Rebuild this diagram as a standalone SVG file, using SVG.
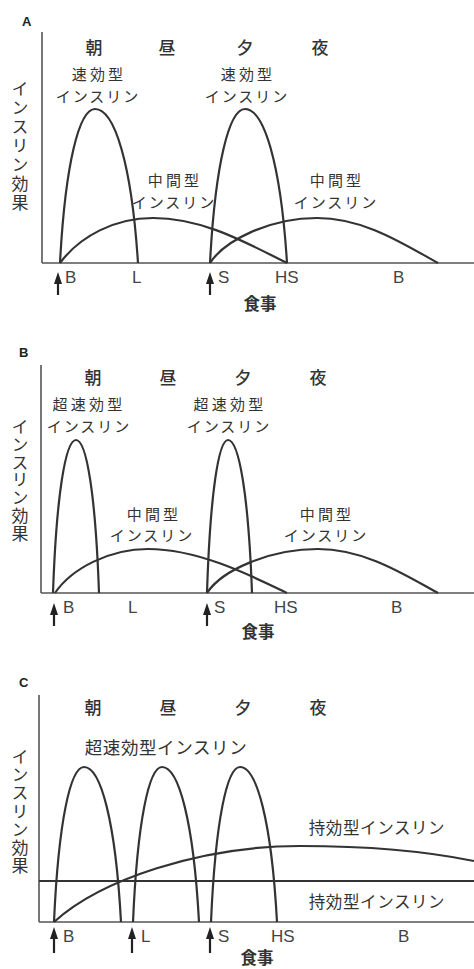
<svg xmlns="http://www.w3.org/2000/svg" width="474" height="969" viewBox="0 0 474 969">
<style>
.bg{fill:#ffffff}
.axis{stroke:#555;stroke-width:1.6;fill:none}
.curve{stroke:#333;stroke-width:2.2;fill:none}
.jp{font-family:"Noto Sans CJK JP","Noto Sans CJK SC",sans-serif;fill:#333;font-size:15px;letter-spacing:2px;text-anchor:middle}
.kj{letter-spacing:3.2px}
.one{font-family:"Noto Sans CJK JP","Noto Sans CJK SC",sans-serif;fill:#333;font-size:16.5px;letter-spacing:0.6px;text-anchor:middle}
.tm{font-family:"Noto Sans CJK JP",sans-serif;fill:#333;font-size:17px;font-weight:500;text-anchor:middle}
.yl{font-family:"Noto Sans CJK JP",sans-serif;fill:#333;font-size:17px;writing-mode:vertical-rl}
.lat{font-family:"Liberation Sans",Arial,sans-serif;fill:#444;font-size:17px}
.pl{font-family:"Liberation Sans",Arial,sans-serif;fill:#222;font-size:13px;font-weight:bold}
.meal{font-family:"Noto Sans CJK JP",sans-serif;fill:#333;font-size:16.5px;font-weight:bold;text-anchor:middle}
.arr{fill:#222}
.shaft{stroke:#222;stroke-width:2.2}
</style>
<defs>
<g id="arrowA"><path class="arr" d="M0,0 L-4,12 L4,12 Z"/><line class="shaft" x1="0" y1="10" x2="0" y2="23"/></g>
<g id="arrowC"><path class="arr" d="M0,0 L-4,12 L4,12 Z"/><line class="shaft" x1="0" y1="10" x2="0" y2="26"/></g>
</defs>
<rect class="bg" x="0" y="0" width="474" height="969"/>

<g id="panelA">
<text class="pl" x="22" y="26">A</text>
<g id="A-axes">
<line class="axis" x1="42" y1="32" x2="42" y2="263"/>
<line class="axis" x1="42" y1="263" x2="474" y2="263"/>
</g>
<text class="yl" x="20" y="80" style="letter-spacing:2px">インスリン効果</text>
<g id="A-times">
<text class="tm" x="94" y="53.5">朝</text>
<text class="tm" x="167" y="53.5">昼</text>
<text class="tm" x="245" y="53.5">夕</text>
<text class="tm" x="320" y="53.5">夜</text>
</g>
<g id="A-rapid1">
<text class="jp kj" x="99" y="80">速効型</text>
<text class="jp" x="98" y="101.5">インスリン</text>
<path class="curve" d="M60,263 C65.3,163 79.3,109 95,109 C114.4,109 131.5,163 138,263"/>
</g>
<g id="A-rapid2">
<text class="jp kj" x="248" y="80">速効型</text>
<text class="jp" x="247" y="101.5">インスリン</text>
<path class="curve" d="M210,263 C215.3,163 229.3,109 245,109 C263.9,109 280.7,163 287,263"/>
</g>
<g id="A-inter1">
<text class="jp kj" x="175" y="186.2">中間型</text>
<text class="jp" x="174" y="207.7">インスリン</text>
<path class="curve" d="M60,263 C80,236 115,218 153,218 C205,218 250,245 287,263"/>
</g>
<g id="A-inter2">
<text class="jp kj" x="337" y="186.2">中間型</text>
<text class="jp" x="336" y="207.7">インスリン</text>
<path class="curve" d="M210,263 C225,240 270,218 317,218 C365,218 405,245 438,263"/>
</g>
<g id="A-meals">
<use href="#arrowA" x="58" y="272"/>
<use href="#arrowA" x="210" y="272"/>
<text class="lat" x="65" y="283">B</text>
<text class="lat" x="132" y="283">L</text>
<text class="lat" x="218" y="283">S</text>
<text class="lat" x="275" y="283">HS</text>
<text class="lat" x="393" y="283">B</text>
<text class="meal" x="260" y="309.5">食事</text>
</g>
</g>

<g id="panelB">
<text class="pl" x="19" y="357">B</text>
<g id="B-axes">
<line class="axis" x1="41" y1="365" x2="41" y2="593"/>
<line class="axis" x1="41" y1="593" x2="474" y2="593"/>
</g>
<text class="yl" x="20" y="418" style="letter-spacing:0.8px">インスリン効果</text>
<g id="B-times">
<text class="tm" x="93" y="384">朝</text>
<text class="tm" x="168" y="384">昼</text>
<text class="tm" x="243" y="384">夕</text>
<text class="tm" x="318" y="384">夜</text>
</g>
<g id="B-rapid1">
<text class="jp kj" x="89" y="410.2">超速効型</text>
<text class="jp" x="89" y="431.7">インスリン</text>
<path class="curve" d="M53,593 C56.5,493.5 65.7,440 76,440 C86.4,440 95.5,493.5 99,593"/>
</g>
<g id="B-rapid2">
<text class="jp kj" x="230" y="410.2">超速効型</text>
<text class="jp" x="229" y="431.7">インスリン</text>
<path class="curve" d="M207,593 C210.2,493.5 218.6,440 228,440 C238.8,440 248.4,493.5 252,593"/>
</g>
<g id="B-inter1">
<text class="jp kj" x="154" y="519.7">中間型</text>
<text class="jp" x="152" y="541.2">インスリン</text>
<path class="curve" d="M55,593 C72,568 110,549 148,549 C198,549 250,575 287,593"/>
</g>
<g id="B-inter2">
<text class="jp kj" x="327" y="519.7">中間型</text>
<text class="jp" x="326" y="541.2">インスリン</text>
<path class="curve" d="M207,593 C222,570 270,549 318,549 C365,549 405,575 438,593"/>
</g>
<g id="B-meals">
<use href="#arrowA" x="54" y="603"/>
<use href="#arrowA" x="207" y="603"/>
<text class="lat" x="63" y="613">B</text>
<text class="lat" x="128" y="613">L</text>
<text class="lat" x="214" y="613">S</text>
<text class="lat" x="274" y="613">HS</text>
<text class="lat" x="391" y="613">B</text>
<text class="meal" x="258" y="638">食事</text>
</g>
</g>

<g id="panelC">
<text class="pl" x="19" y="687">C</text>
<g id="C-axes">
<line class="axis" x1="39" y1="695" x2="39" y2="922"/>
<line class="axis" x1="39" y1="922" x2="474" y2="922"/>
</g>
<text class="yl" x="20" y="748" style="letter-spacing:1.2px">インスリン効果</text>
<g id="C-times">
<text class="tm" x="93" y="714">朝</text>
<text class="tm" x="168" y="714">昼</text>
<text class="tm" x="243" y="714">夕</text>
<text class="tm" x="318" y="714">夜</text>
</g>
<g id="C-rapid">
<text class="one" x="166" y="754" style="font-size:17.5px">超速効型インスリン</text>
<path class="curve" d="M54,922 C58.5,821 70.5,767 84,767 C100.7,767 115.5,821 121,922"/>
<path class="curve" d="M133,922 C137.4,821 149,767 162,767 C178.7,767 193.5,821 199,922"/>
<path class="curve" d="M211,922 C215.4,821 227,767 240,767 C256.7,767 271.5,821 277,922"/>
</g>
<g id="C-long1">
<text class="one" x="377" y="834">持効型インスリン</text>
<path class="curve" d="M54,922 C100,880 200,846 300,846 C380,846 430,852 474,861"/>
</g>
<g id="C-long2">
<text class="one" x="377" y="908">持効型インスリン</text>
<line class="curve" x1="39" y1="881" x2="474" y2="881"/>
</g>
<g id="C-meals">
<use href="#arrowC" x="54" y="927"/>
<use href="#arrowC" x="132" y="927"/>
<use href="#arrowC" x="210" y="927"/>
<text class="lat" x="63" y="942">B</text>
<text class="lat" x="141" y="942">L</text>
<text class="lat" x="218" y="942">S</text>
<text class="lat" x="271" y="942">HS</text>
<text class="lat" x="398" y="942">B</text>
<text class="meal" x="257" y="964">食事</text>
</g>
</g>
</svg>
